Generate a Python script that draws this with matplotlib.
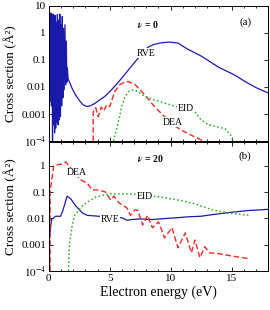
import matplotlib
matplotlib.use("Agg")
from matplotlib import pyplot as plt
from matplotlib.ticker import FixedLocator, FixedFormatter, MultipleLocator, NullLocator

plt.rcParams['font.family'] = ['Liberation Serif', 'DejaVu Serif']
plt.rcParams['mathtext.fontset'] = 'stix'

# ---- panel (a), nu = 0 ----
rve_a_e = [0.05, 0.09, 0.13, 0.17, 0.21, 0.25, 0.30, 0.34, 0.38, 0.42, 0.47, 0.51,
           0.56, 0.60, 0.65, 0.70, 0.75, 0.80, 0.85, 0.90, 0.95, 1.00, 1.05, 1.10,
           1.15, 1.20, 1.26, 1.32, 1.38, 1.43, 1.48, 1.52, 1.58,
           1.65, 1.9, 2.2, 2.5, 2.8, 3.1, 3.4, 3.8, 4.2, 4.6, 5.1, 5.7, 6.4, 7.07,
           7.6, 8.1, 8.6, 9.2, 9.9, 10.6, 11.4, 12.5, 13.9, 15.3, 16.1, 17.0, 18.0]
rve_a_v = [0.02, 3.0, 0.003, 5.5, 0.002, 4.0, 0.0001, 5.0, 0.0004, 3.5, 0.0002, 4.5,
           0.0003, 2.5, 0.0005, 4.8, 0.0004, 3.0, 0.0006, 5.0, 0.0008, 2.0, 0.002, 4.0,
           0.004, 1.5, 0.008, 2.0, 0.012, 0.5, 0.015, 0.05, 0.02,
           0.017, 0.009, 0.005, 0.0032, 0.0022, 0.0019, 0.002, 0.0025, 0.0034, 0.0045,
           0.0075, 0.015, 0.036, 0.085,
           0.16, 0.29, 0.37, 0.43, 0.46, 0.42, 0.25, 0.14, 0.055, 0.027, 0.016, 0.0095, 0.006]

dea_a_e = [3.64, 3.64, 3.85, 4.05, 4.3, 4.5, 4.75, 5.0, 5.4, 5.8, 6.2, 6.5, 7.1,
           7.9, 8.7, 9.5, 10.2, 10.9, 12.0, 12.7]
dea_a_v = [1e-4, 0.0012, 0.0017, 0.0008, 0.0018, 0.0013, 0.0022, 0.0019, 0.0067,
           0.012, 0.015, 0.016, 0.012, 0.005, 0.0018, 0.0008, 0.0004, 0.00025,
           0.00014, 1e-4]

eid_a_e = [5.3, 5.7, 6.0, 6.24, 6.6, 6.93, 7.3, 7.9, 8.7, 10.1, 11.0, 12.0, 12.5,
           13.1, 13.9, 14.5, 14.9, 15.15]
eid_a_v = [1e-4, 0.0005, 0.002, 0.0044, 0.007, 0.0078, 0.0068, 0.0044, 0.0033,
           0.0021, 0.0016, 0.0012, 0.0006, 0.0004, 0.00033, 0.00028, 0.00017, 1e-4]

# ---- panel (b), nu = 20 ----
rve_b_e = [0.05, 0.22, 0.55, 0.96, 1.15, 1.5, 1.8, 2.2, 2.75, 3.15, 4.1, 5.0,
           6.0, 6.4, 6.8, 7.5, 8.5, 9.5, 10.5, 11.5, 12.5, 13.5, 14.5, 15.5, 16.5,
           17.3, 18.0]
rve_b_v = [0.002, 0.009, 0.012, 0.012, 0.02, 0.07, 0.055, 0.03, 0.016, 0.013,
           0.012, 0.011, 0.0105, 0.0085, 0.009, 0.0095, 0.009, 0.0098, 0.0105,
           0.0115, 0.012, 0.014, 0.016, 0.018, 0.02, 0.021, 0.022]

dea_b_e = [0.1, 0.1, 0.4, 0.8, 1.2, 1.4, 1.64, 1.9, 2.6, 3.15, 3.55, 4.1, 4.65,
           5.07, 5.34, 5.75, 6.4, 6.7, 7.07, 7.3, 7.7, 8.1, 8.5, 9.0, 9.5, 10.1,
           10.6, 11.2, 11.7, 12.0, 12.4, 12.8, 13.2, 14.0, 15.0, 16.5]
dea_b_v = [1e-4, 0.1, 1.0, 1.1, 1.2, 1.4, 1.0, 0.7, 0.29, 0.22, 0.12, 0.12, 0.1,
           0.05, 0.07, 0.039, 0.025, 0.013, 0.021, 0.02, 0.0056, 0.013, 0.0044,
           0.0074, 0.0018, 0.0044, 0.00076, 0.0028, 0.00049, 0.0015, 0.00032,
           0.00083, 0.00049, 0.00045, 0.00037, 0.00029]

eid_b_e = [1.6, 1.7, 1.9, 2.1, 2.8, 3.9, 5.0, 6.9, 9.0, 10.6, 12.0, 13.4, 14.7, 16.5]
eid_b_v = [1e-4, 0.0012, 0.0048, 0.013, 0.032, 0.067, 0.085, 0.085, 0.066, 0.05,
           0.036, 0.021, 0.016, 0.013]

yticks_a = [1e-4, 1e-3, 1e-2, 1e-1, 1, 10]
ylabels_a = ["$10^{-4}$", "0.001", "0.01", "0.1", "1", "10"]
xticks = [0, 5, 10, 15]

blue = '#1a1aaa'
red = '#f02828'
green = '#1fae1f'

fig = plt.figure(figsize=(2.7, 3.1), dpi=100)
ax1 = fig.add_axes([0.181, 0.545, 0.812, 0.436])
ax2 = fig.add_axes([0.181, 0.126, 0.812, 0.416])

ax1.plot(rve_a_e, rve_a_v, color=blue, lw=0.9)
ax1.plot(dea_a_e, dea_a_v, color=red, lw=1.0, dashes=(4, 2))
ax1.plot(eid_a_e, eid_a_v, color=green, lw=1.1, dashes=(1, 1.6))

ax2.plot(rve_b_e, rve_b_v, color=blue, lw=0.9)
ax2.plot(dea_b_e, dea_b_v, color=red, lw=1.0, dashes=(4, 2))
ax2.plot(eid_b_e, eid_b_v, color=green, lw=1.1, dashes=(1, 1.6))

box = dict(facecolor='white', edgecolor='none', pad=0.3)
ax1.text(8.0, 0.18, "RVE", fontsize=7, ha='center', va='center', bbox=box)
ax1.text(11.2, 0.0016, "EID", fontsize=7, ha='center', va='center', bbox=box)
ax1.text(10.2, 0.0005, "DEA", fontsize=7, ha='center', va='center', bbox=box)
ax1.text(0.40, 0.86, r"$\boldsymbol{\nu}$ = 0", transform=ax1.transAxes, fontsize=7,
         fontweight='bold', ha='left', va='center')
ax1.text(0.895, 0.88, "(a)", transform=ax1.transAxes, fontsize=8, ha='center', va='center')

ax2.text(2.3, 0.55, "DEA", fontsize=7, ha='center', va='center', bbox=box)
ax2.text(7.9, 0.066, "EID", fontsize=7, ha='center', va='center', bbox=box)
ax2.text(5.0, 0.0087, "RVE", fontsize=7, ha='center', va='center', bbox=box)
ax2.text(0.40, 0.87, r"$\boldsymbol{\nu}$ = 20", transform=ax2.transAxes, fontsize=7,
         fontweight='bold', ha='left', va='center')
ax2.text(0.895, 0.89, "(b)", transform=ax2.transAxes, fontsize=8, ha='center', va='center')

for ax, top in ((ax1, 10), (ax2, 8)):
    ax.set_yscale('log')
    ax.set_xlim(0, 18)
    ax.set_ylim(1e-4, top)
    ax.yaxis.set_major_locator(FixedLocator(yticks_a))
    ax.yaxis.set_major_formatter(FixedFormatter(ylabels_a))
    ax.yaxis.set_minor_locator(NullLocator())
    ax.xaxis.set_major_locator(FixedLocator(xticks))
    ax.xaxis.set_minor_locator(MultipleLocator(1))
    ax.tick_params(which='both', direction='in', top=True, right=True,
                   labelsize=8, pad=2, width=0.6)
    ax.tick_params(which='major', length=3)
    ax.tick_params(which='minor', length=1.6)
    for s in ax.spines.values():
        s.set_linewidth(0.7)
    ax.set_ylabel("Cross section (Å²)", fontsize=9.5)
    ax.yaxis.set_label_coords(-0.145, 0.5)

ax1.tick_params(labelbottom=False)
ax2.set_xlabel("Electron energy (eV)", fontsize=10, labelpad=2)

fig.savefig("out.png", dpi=100)
